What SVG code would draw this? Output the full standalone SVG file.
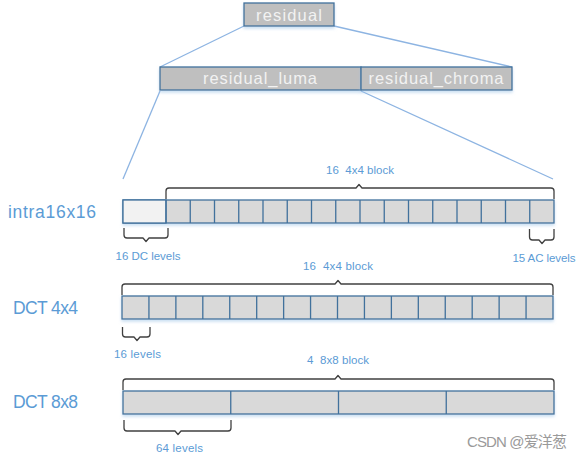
<svg xmlns="http://www.w3.org/2000/svg" width="582" height="458" viewBox="0 0 582 458">
<defs>
<filter id="sh" x="-5%" y="-30%" width="110%" height="180%">
<feDropShadow dx="0" dy="2" stdDeviation="1.5" flood-color="#9DC3E6" flood-opacity="0.55"/>
</filter>
</defs>
<style>
.box{fill:#BFBFBF;stroke:#41719C;stroke-width:1.3}
.boxt{font-family:"Liberation Sans",Arial,sans-serif;font-size:16.5px;fill:#F2F2F2;text-anchor:middle}
.bar{fill:#D9D9D9;stroke:#41719C;stroke-width:1.3}
.dc{fill:#F2F2F2;stroke:#41719C;stroke-width:1.3}
.div{fill:none;stroke:#41719C;stroke-width:1.3}
.brace{fill:none;stroke:#404040;stroke-width:1.3;stroke-linejoin:round}
.conn{fill:none;stroke:#8DB4E2;stroke-width:1.3}
.big{font-family:"Liberation Sans",Arial,sans-serif;font-size:17.5px;fill:#5B9BD5}
.small{font-family:"Liberation Sans",Arial,sans-serif;font-size:11.5px;fill:#5B9BD5;white-space:pre}
.wm{font-family:"Liberation Sans","Noto Sans CJK SC",sans-serif;font-size:15px;fill:#9A9A9A}
</style>

<g id="connectors">
<path class="conn" d="M244 26 L160 67"/>
<path class="conn" d="M334 26 L512 67"/>
<path class="conn" d="M160 91 L123 179"/>
<path class="conn" d="M361 91 L553 179"/>
</g>

<g id="residual">
<rect class="box" x="244" y="3" width="90" height="23" filter="url(#sh)"/>
<text class="boxt" x="289" y="21" textLength="66">residual</text>
</g>
<g id="residual_luma">
<rect class="box" x="160" y="67" width="201" height="23" filter="url(#sh)"/>
<text class="boxt" x="260" y="84" textLength="114">residual_luma</text>
</g>
<g id="residual_chroma">
<rect class="box" x="361" y="67" width="151" height="23" filter="url(#sh)"/>
<text class="boxt" x="436" y="84" textLength="135">residual_chroma</text>
</g>

<g id="intra16x16">
<text class="big" x="8" y="218" textLength="88">intra16x16</text>
<rect class="bar" x="123" y="200" width="431" height="23" filter="url(#sh)"/>
<rect class="dc" x="123" y="200" width="43" height="23"/>
<path class="div" d="M166 200V223M190.25 200V223M214.5 200V223M238.75 200V223M263 200V223M287.25 200V223M311.5 200V223M335.75 200V223M360 200V223M384.25 200V223M408.5 200V223M432.75 200V223M457 200V223M481.25 200V223M505.5 200V223M529.75 200V223"/>
<path class="brace" d="M166 199 V191 Q166 188 169 188 H356 L359 184.5 L362 188 H551 Q554 188 554 191 V199"/>
<text class="small" x="360" y="174" text-anchor="middle" textLength="68">16  4x4 block</text>
<path class="brace" d="M124 228 V235 Q124 238 127 238 H143 L146 241.5 L149 238 H165 Q168 238 168 235 V228"/>
<text class="small" x="148" y="260" text-anchor="middle" textLength="65">16 DC levels</text>
<path class="brace" d="M529.5 229 V237 Q529.5 240 532.5 240 H539 L542 243.5 L545 240 H551 Q554 240 554 237 V229"/>
<text class="small" x="544" y="262" text-anchor="middle" textLength="63">15 AC levels</text>
</g>

<g id="dct4x4">
<text class="big" x="13" y="314" textLength="65">DCT 4x4</text>
<rect class="bar" x="122" y="296" width="431" height="23" filter="url(#sh)"/>
<path class="div" d="M148.94 296V319M175.88 296V319M202.81 296V319M229.75 296V319M256.69 296V319M283.63 296V319M310.56 296V319M337.5 296V319M364.44 296V319M391.38 296V319M418.31 296V319M445.25 296V319M472.19 296V319M499.13 296V319M526.06 296V319"/>
<path class="brace" d="M122 295 V287 Q122 284 125 284 H335 L338 280.5 L341 284 H550 Q553 284 553 287 V295"/>
<text class="small" x="338" y="270" text-anchor="middle" textLength="70">16  4x4 block</text>
<path class="brace" d="M122.5 327 V334 Q122.5 337 125.5 337 H134 L137 340.5 L140 337 H147 Q150 337 150 334 V327"/>
<text class="small" x="137.5" y="358" text-anchor="middle" textLength="47">16 levels</text>
</g>

<g id="dct8x8">
<text class="big" x="13" y="408" textLength="65">DCT 8x8</text>
<rect class="bar" x="123" y="391" width="431" height="23" filter="url(#sh)"/>
<path class="div" d="M230.75 391V414M338.5 391V414M446.25 391V414"/>
<path class="brace" d="M123 390 V382 Q123 379 126 379 H335 L338 375.5 L341 379 H551 Q554 379 554 382 V390"/>
<text class="small" x="338" y="364" text-anchor="middle" textLength="62">4  8x8 block</text>
<path class="brace" d="M124 420 V428 Q124 431 127 431 H175 L178 434.5 L181 431 H228 Q231 431 231 428 V420"/>
<text class="small" x="179.5" y="452" text-anchor="middle" textLength="47">64 levels</text>
</g>

<text class="wm" x="467" y="447" textLength="100">CSDN @爱洋葱</text>
</svg>
